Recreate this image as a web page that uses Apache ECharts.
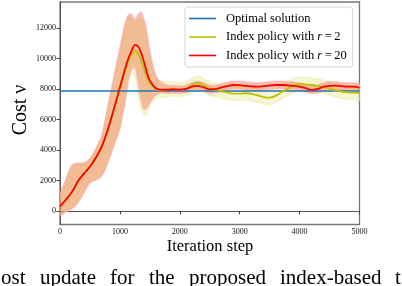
<!DOCTYPE html>
<html><head><meta charset="utf-8">
<script src="https://cdn.jsdelivr.net/npm/echarts@6/dist/echarts.min.js"></script>
<style>html,body{margin:0;padding:0;background:#fff}#c{width:402px;height:286px}</style>
</head><body><div id="c"></div>
<script>
const steps = [0,100,200,300,400,500,600,700,800,900,1000,1100,1150,1200,1250,1300,1350,1400,1450,1500,1600,1700,1800,1900,2000,2100,2200,2300,2400,2500,2600,2700,2800,2900,3000,3100,3200,3300,3400,3500,3600,3700,3800,3900,4000,4100,4200,4300,4400,4500,4600,4700,4800,4900,5000];
const optimalValue = 7870;
const r20 = [280,750,1250,1950,2450,2900,3500,4250,5350,6700,8100,9500,10100,10550,10870,10800,10400,9800,9100,8550,8050,7950,7950,7980,7950,8000,8150,8200,8100,7980,8000,8100,8200,8260,8250,8200,8170,8150,8180,8230,8260,8260,8240,8200,8150,8050,7940,8000,8150,8200,8220,8180,8150,8150,8080];
const r2 = [270,740,1240,1940,2440,2890,3490,4230,5320,6650,8000,9350,9900,10300,10500,10350,9900,9300,8800,8370,7980,7900,7950,8000,7950,8000,8250,8400,8250,8020,7950,7850,7760,7700,7690,7720,7680,7580,7470,7430,7550,7800,8020,8250,8320,8300,8260,8200,8130,8030,7920,7830,7780,7760,7740];
const r20Upper = [1000,2100,3000,3150,3150,3450,4100,5000,6900,8800,10700,12500,12900,12850,12550,12850,13050,12600,11800,10500,8900,8400,8250,8230,8200,8250,8400,8500,8400,8250,8250,8350,8450,8500,8500,8450,8420,8400,8430,8480,8510,8510,8490,8450,8400,8300,8200,8250,8400,8450,8470,8430,8400,8400,8330];
const r20Lower = [-250,-50,150,550,1200,1850,2030,2300,3200,4300,5400,7500,8800,9300,9400,8500,7300,6650,6750,7100,7600,7750,7700,7730,7700,7750,7900,7950,7850,7730,7750,7850,7950,8010,8000,7950,7920,7900,7930,7980,8010,8010,7990,7950,7900,7800,7690,7750,7900,7950,7970,7930,7900,7900,7830];
const r2Upper = [950,2050,2950,3100,3100,3400,4050,4950,6850,8700,10600,12300,12700,12600,12300,12500,12600,12200,11300,10000,8700,8500,8450,8450,8400,8450,8700,8850,8700,8450,8400,8300,8200,8150,8140,8170,8130,8030,7920,7880,8000,8250,8470,8700,8770,8750,8710,8650,8580,8480,8370,8280,8230,8210,8190];
const r2Lower = [-200,0,200,600,1250,1900,2080,2350,3250,4350,5450,7400,8600,9000,8900,7800,6800,6300,6400,6900,7400,7450,7500,7550,7500,7550,7800,7950,7800,7570,7500,7400,7310,7250,7240,7270,7230,7130,7020,6980,7100,7350,7570,7800,7870,7850,7810,7750,7680,7580,7470,7380,7330,7310,7290];
const xTicks = [0,1000,2000,3000,4000,5000];
const yTicks = [0,2000,4000,6000,8000,10000,12000];
const names = ['Optimal solution','Index policy with r=2','Index policy with r=20'];
const captionWords = ['ost','update','for','the','proposed','index-based','t'];

const serif = '"Liberation Serif","DejaVu Serif",serif';
const chart = echarts.init(document.getElementById('c'));
const pairs = v => steps.map((s,i)=>[s,v[i]]);

function bandSeries(up, lo, fill, stroke){
  return {
    type:'custom', silent:true, clip:true, z:1,
    data:[0],
    renderItem:function(params, api){
      const pts = [];
      for (let i=0;i<steps.length;i++) pts.push(api.coord([steps[i], up[i]]));
      for (let i=steps.length-1;i>=0;i--) pts.push(api.coord([steps[i], lo[i]]));
      return {type:'polygon', shape:{points:pts, smooth:0.3}, style:{fill:fill, stroke:stroke, lineWidth:1.5}};
    }
  };
}

const capX = [1,40,110,149,189,280,395];
const graphics = [
  {type:'text', x:21, y:110, rotation:Math.PI/2, style:{text:'Cost \u03bd', font:'20px '+serif, fill:'#000', align:'center', verticalAlign:'middle'}},
  {type:'text', x:210, y:247, style:{text:'Iteration step', font:'16.5px '+serif, fill:'#000', align:'center', verticalAlign:'middle'}}
];
captionWords.forEach((w,i)=>graphics.push({type:'text', x:capX[i], y:278, style:{text:w, font:'21px '+serif, fill:'#000', align:'left', verticalAlign:'middle'}}));

chart.setOption({
  animation:false,
  grid:{left:60, right:42.5, top:2, bottom:61.5, show:true, borderColor:'#777', borderWidth:1.3},
  xAxis:{type:'value', min:0, max:5000, interval:1000,
    axisLine:{lineStyle:{color:'#555'}}, axisTick:{length:3.5, lineStyle:{color:'#444'}},
    axisLabel:{fontSize:8, fontFamily:serif, color:'#111', margin:3, formatter:v=>String(v)}, splitLine:{show:false}},
  yAxis:{type:'value', min:-890, max:13705,
    axisLine:{show:true, lineStyle:{color:'#555'}},
    axisTick:{show:true, length:3.5, lineStyle:{color:'#444'}, customValues:yTicks},
    axisLabel:{fontSize:8, fontFamily:serif, color:'#111', margin:4, customValues:yTicks, formatter:v=>String(v)}, splitLine:{show:false}},
  legend:{
    data:names, left:185, top:7, orient:'vertical', selectedMode:false,
    icon:'rect', itemWidth:27, itemHeight:1.6,
    backgroundColor:'#fff', borderColor:'#d4d4d4', borderWidth:1, borderRadius:3,
    padding:[5,6,5,4], itemGap:5.5,
    textStyle:{fontFamily:serif, fontSize:12.5, color:'#000', padding:[0,0,0,5],
      rich:{i:{fontFamily:serif, fontSize:12.5, fontStyle:'italic'}}},
    formatter:function(n){
      if (n===names[1]) return 'Index policy with {i|r}\u2009=\u20092';
      if (n===names[2]) return 'Index policy with {i|r}\u2009=\u200920';
      return n;
    }
  },
  graphic:graphics,
  series:[
    bandSeries(r2Upper, r2Lower, 'rgba(228,228,130,0.35)', 'rgba(235,235,160,0.5)'),
    bandSeries(r20Upper, r20Lower, 'rgba(238,130,85,0.5)', 'rgba(250,175,185,0.6)'),
    {name:names[0], type:'line', data:[[0,optimalValue],[5000,optimalValue]], symbol:'none', lineStyle:{color:'#1f77b4', width:1.5}, itemStyle:{color:'#1f77b4'}, z:3},
    {name:names[1], type:'line', data:pairs(r2), smooth:0.4, symbol:'none', lineStyle:{color:'#bfbf00', width:1.8}, itemStyle:{color:'#bfbf00'}, z:4},
    {name:names[2], type:'line', data:pairs(r20), smooth:0.4, symbol:'none', lineStyle:{color:'#ff0000', width:1.8}, itemStyle:{color:'#ff0000'}, z:5}
  ]
});
</script></body></html>
